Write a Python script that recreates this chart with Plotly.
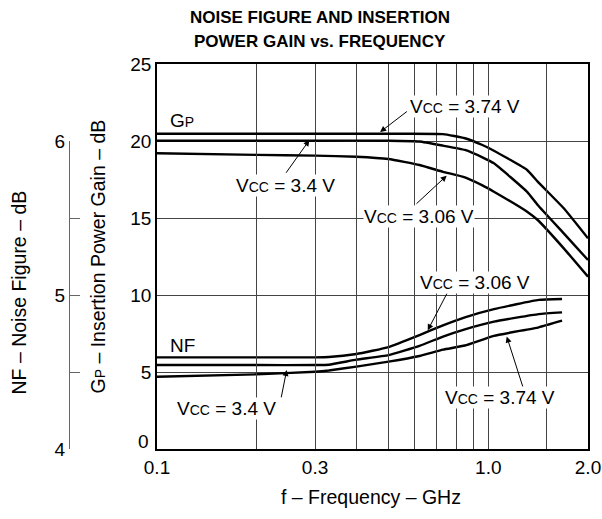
import numpy as np
import plotly.graph_objects as go

# ---------------- data ----------------
# Insertion power gain Gp (dB) vs frequency (GHz)
gp_freq_374 = [0.1, 0.3, 0.5, 0.73, 0.85, 0.96, 1.04, 1.31, 1.41, 1.69, 2.0]
gp_val_374 = [20.47, 20.47, 20.47, 20.45, 20.18, 19.74, 19.37, 18.12, 17.36, 15.63, 13.68]

gp_freq_340 = [0.1, 0.3, 0.5, 0.62, 0.73, 0.85, 0.96, 1.04, 1.31, 1.41, 1.69, 2.0]
gp_val_340 = [20.02, 20.02, 20.02, 19.97, 19.7, 19.42, 18.94, 18.55, 16.7, 15.84, 14.0, 12.27]

gp_freq_306 = [0.1, 0.2, 0.3, 0.4, 0.5, 0.62, 0.73, 0.85, 0.96, 1.04, 1.31, 1.41, 1.69, 2.0]
gp_val_306 = [19.2, 19.1, 19.05, 18.98, 18.83, 18.44, 18.0, 17.64, 17.12, 16.71, 15.41, 14.87, 13.03, 11.19]

# Noise figure curves, drawn on the Gp scale (NF = 4 + Gp/10)
nf_freq = [0.1, 0.2, 0.3, 0.33, 0.4, 0.5, 0.62, 0.73, 0.85, 1.04, 1.42, 1.67]
nf_val_306 = [5.95, 5.95, 5.95, 5.97, 6.17, 6.62, 7.4, 8.03, 8.55, 9.08, 9.68, 9.74]
nf_val_340 = [5.45, 5.45, 5.45, 5.47, 5.8, 6.1, 6.7, 7.3, 7.77, 8.27, 8.76, 8.87]
nf_val_374 = [4.69, 4.85, 5.02, 5.1, 5.35, 5.67, 6.04, 6.45, 6.72, 7.35, 7.9, 8.33]

x_tick_vals = [0.1, 0.3, 1.0, 2.0]
x_tick_text = ["0.1", "0.3", "1.0", "2.0"]
x_grid_vals = [0.2, 0.4, 0.5, 0.6, 0.7, 0.8, 0.9, 1.5]
gp_tick_vals = [5, 10, 15, 20, 25]
gp_zero_label = "0"
nf_tick_vals = [4, 5, 6]
nf_minor_vals = [4.5, 5.5]

# ---------------- figure ----------------
FONT = "Liberation Sans, Arial, sans-serif"
OFF = 0                      # page body margin (removed by post_script)
W, H = 602, 519
ML, MR, MT = 0, 14, 64
PH = 385
MB = H - MT - PH
PW = W - ML - MR
X0 = 157 - OFF  # left edge of plot area in figure px


def px(xp):
    """screen x pixel -> paper fraction"""
    return (xp - OFF - ML) / PW


def py(yp):
    """screen y pixel -> paper fraction"""
    return (449 - yp) / PH


fig = go.Figure()

line_style = dict(color="black", width=2.4, shape="spline", smoothing=0.4)
for fx, fy in [(gp_freq_374, gp_val_374), (gp_freq_340, gp_val_340), (gp_freq_306, gp_val_306),
               (nf_freq, nf_val_306), (nf_freq, nf_val_340), (nf_freq, nf_val_374)]:
    fig.add_trace(go.Scatter(x=fx, y=fy, mode="lines", line=line_style,
                             showlegend=False, hoverinfo="skip"))

# dummy trace for the NF axis
fig.add_trace(go.Scatter(x=[0.1], y=[4], yaxis="y2", mode="markers",
                         marker=dict(opacity=0), showlegend=False, hoverinfo="skip"))

fig.update_layout(
    width=W, height=H,
    margin=dict(l=ML, r=MR, t=MT, b=MB, autoexpand=False),
    paper_bgcolor="white", plot_bgcolor="rgba(0,0,0,0)",
    font=dict(family=FONT, size=19, color="black"),
    xaxis=dict(
        type="log", domain=[X0 / PW, 1], range=[np.log10(0.1), np.log10(2.0)],
        tickvals=x_tick_vals, ticktext=x_tick_text, ticks="", automargin=False,
        showgrid=True, gridcolor="#444", gridwidth=1,
        minor=dict(tickvals=x_grid_vals, showgrid=True, gridcolor="#444", gridwidth=1, ticks=""),
        showline=True, linecolor="black", linewidth=1.5, mirror=True,
        zeroline=False, tickfont=dict(size=19), ticklabeloverflow="allow",
    ),
    yaxis=dict(
        range=[0, 25], tickvals=gp_tick_vals, ticks="", automargin=False,
        showgrid=True, gridcolor="#444", gridwidth=1,
        showline=True, linecolor="black", linewidth=1.5, mirror=True,
        zeroline=False, tickfont=dict(size=19),
    ),
    yaxis2=dict(
        domain=[0, 0.8], range=[4, 6], anchor="free", position=px(69), side="left",
        tickvals=nf_tick_vals, ticks="inside", ticklen=10, tickcolor="#666", automargin=False,
        minor=dict(tickvals=nf_minor_vals, ticks="inside", ticklen=10, tickcolor="#666", showgrid=False),
        showgrid=False, zeroline=False, showline=True, linecolor="#666", linewidth=1,
        tickfont=dict(size=19),
    ),
)


def lx(f):
    return float(np.log10(f))


SMALL = "<span style='font-size:14px'>{}</span>"


def vcc(v):
    return "V" + SMALL.format("CC") + " = " + v + " V"


ann = []
# titles
ann.append(dict(xref="paper", yref="paper", x=px(320), y=py(17),
                text="<b>NOISE FIGURE AND INSERTION</b>", showarrow=False,
                font=dict(size=17), xanchor="center", yanchor="middle"))
ann.append(dict(xref="paper", yref="paper", x=px(320), y=py(42),
                text="<b>POWER GAIN vs. FREQUENCY</b>", showarrow=False,
                font=dict(size=17), xanchor="center", yanchor="middle"))
ann.append(dict(xref="paper", yref="paper", x=px(371), y=py(497),
                text="f – Frequency – GHz", showarrow=False,
                font=dict(size=19.5), xanchor="center", yanchor="middle"))
ann.append(dict(xref="paper", yref="paper", x=px(97.5), y=py(257),
                text="G" + SMALL.format("P") + " – Insertion Power Gain – dB", showarrow=False,
                font=dict(size=19.5), textangle=-90, xanchor="center", yanchor="middle"))
ann.append(dict(xref="paper", yref="paper", x=px(18.5), y=py(293),
                text="NF – Noise Figure – dB", showarrow=False,
                font=dict(size=19.5), textangle=-90, xanchor="center", yanchor="middle"))
# zero label of the gain axis (raised above the corner, as in the original)
ann.append(dict(xref="paper", yref="paper", x=px(150.5), y=py(441.5),
                text=gp_zero_label, showarrow=False,
                font=dict(size=19), xanchor="right", yanchor="middle"))
# curve group labels
ann.append(dict(x=lx(0.108), y=21.3, text="G" + SMALL.format("P"), showarrow=False,
                xanchor="left", yanchor="middle"))
ann.append(dict(x=lx(0.108), y=6.7, text="NF", showarrow=False,
                xanchor="left", yanchor="middle"))

# Vcc labels: (text center f, gp), (tail f, gp), (head f, gp)
labels = [
    ("3.74", (0.851, 22.24), (0.574, 21.99), (0.4715, 20.58)),
    ("3.4", (0.2435, 17.14), (0.2435, 17.84), (0.2884, 20.06)),
    ("3.06", (0.618, 15.1), (0.601, 15.84), (0.749, 17.75)),
    ("3.06", (0.909, 10.78), (0.7546, 10.2), (0.6566, 7.71)),
    ("3.4", (0.1616, 2.63), (0.2367, 3.26), (0.2463, 5.13)),
    ("3.74", (1.085, 3.34), (1.276, 3.94), (1.137, 7.3)),
]
for v, (tf, tg), (af, ag), (hf, hg) in labels:
    ann.append(dict(x=lx(hf), y=hg, ax=lx(af), ay=ag, axref="x", ayref="y",
                    text="", showarrow=True, arrowhead=2, arrowsize=1.2, arrowwidth=1,
                    arrowcolor="black", standoff=0, startstandoff=0))
    ann.append(dict(x=lx(tf), y=tg, text=vcc(v), showarrow=False, bgcolor="white",
                    borderpad=0, xanchor="center", yanchor="middle"))

fig.update_layout(annotations=ann)
fig.write_html(
    "out.html",
    config={"displayModeBar": False},
    post_script="document.body.style.margin='0px';"
                "document.documentElement.style.overflow='hidden';"
                "document.body.style.overflow='hidden';",
)
